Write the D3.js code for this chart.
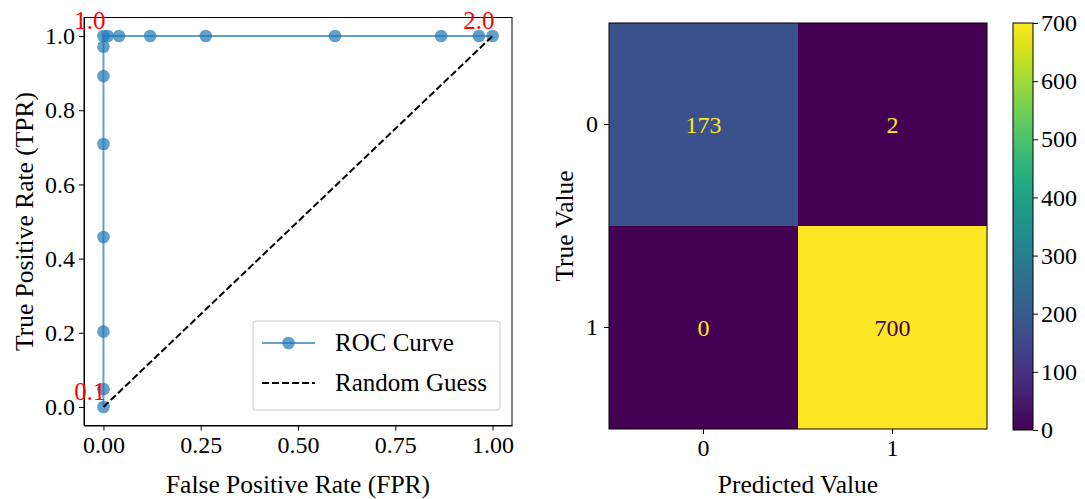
<!DOCTYPE html>
<html>
<head>
<meta charset="utf-8">
<script src="https://cdn.jsdelivr.net/npm/d3@7"></script>
<style>
body { margin: 0; background: #fff; }
svg { font-family: "Liberation Serif", "DejaVu Serif", serif; }
.axis path, .axis line { stroke: #000; stroke-width: 1; }
.axis text { font-size: 24px; fill: #000; font-family: "Liberation Serif", serif; }
</style>
</head>
<body>
<svg id="chart" width="1085" height="499"></svg>
<script>
// ROC curve points
var fpr = [0, 0, 0, 0, 0, 0, 0, 0, 0.011, 0.04, 0.12, 0.263, 0.595, 0.868, 0.965, 1.0];
var tpr = [0, 0.048, 0.203, 0.458, 0.709, 0.892, 0.971, 1.0, 1.0, 1.0, 1.0, 1.0, 1.0, 1.0, 1.0, 1.0];
// threshold annotations: index of point, label
var annotIdx = [0, 7, 15];
var annotText = ["0.1", "1.0", "2.0"];
var rocTicksX = [0, 0.25, 0.5, 0.75, 1.0];
var rocTicksY = [0, 0.2, 0.4, 0.6, 0.8, 1.0];

// confusion matrix
var classes = ["0", "1"];
var matrix = [[173, 2], [0, 700]];
var cbarTicks = [0, 100, 200, 300, 400, 500, 600, 700];

var svg = d3.select("#chart");
var fontFam = "Liberation Serif, serif";

// ---------- ROC panel ----------
var x = d3.scaleLinear().domain([-0.05, 1.05]).range([84, 512]);
var y = d3.scaleLinear().domain([-0.05, 1.05]).range([425.5, 17.5]);
var roc = svg.append("g");

roc.append("g").attr("class", "axis")
	.attr("transform", "translate(0," + y(-0.05) + ")")
	.call(d3.axisBottom(x).tickValues(rocTicksX).tickFormat(d3.format(".2f")).tickSize(5).tickPadding(5).tickSizeOuter(0))
	.attr("font-family", fontFam).attr("font-size", 24);
roc.append("g").attr("class", "axis")
	.attr("transform", "translate(" + x(-0.05) + ",0)")
	.call(d3.axisLeft(y).tickValues(rocTicksY).tickFormat(d3.format(".1f")).tickSize(5).tickPadding(4).tickSizeOuter(0))
	.attr("font-family", fontFam).attr("font-size", 24);

// box
roc.append("rect")
	.attr("x", x(-0.05)).attr("y", y(1.05))
	.attr("width", x(1.05) - x(-0.05)).attr("height", y(-0.05) - y(1.05))
	.attr("fill", "none").attr("stroke", "#000").attr("stroke-width", 1);

var pts = fpr.map(function(f, i) { return [f, tpr[i]]; });

roc.append("path")
	.attr("d", d3.line().x(function(d) { return x(d[0]); }).y(function(d) { return y(d[1]); })(pts))
	.attr("fill", "none").attr("stroke", "#1f77b4").attr("stroke-width", 2).attr("stroke-opacity", 0.7);

roc.selectAll("circle.pt").data(pts).enter().append("circle")
	.attr("class", "pt")
	.attr("cx", function(d) { return x(d[0]); })
	.attr("cy", function(d) { return y(d[1]); })
	.attr("r", 6.3)
	.attr("fill", "#1f77b4").attr("fill-opacity", 0.7);

roc.append("line")
	.attr("x1", x(0)).attr("y1", y(0)).attr("x2", x(1)).attr("y2", y(1))
	.attr("stroke", "#000").attr("stroke-width", 2).attr("stroke-dasharray", "7,3");

roc.selectAll("text.annot").data(annotIdx).enter().append("text")
	.attr("class", "annot")
	.attr("x", function(d) { return x(fpr[d]) + 2; })
	.attr("y", function(d) { return y(tpr[d]) - 7; })
	.attr("text-anchor", "end")
	.attr("font-size", 25).attr("fill", "red")
	.text(function(d, i) { return annotText[i]; });

roc.append("text")
	.attr("x", (x(-0.05) + x(1.05)) / 2).attr("y", 493)
	.attr("text-anchor", "middle").attr("font-size", 25.5)
	.text("False Positive Rate (FPR)");
roc.append("text")
	.attr("transform", "translate(33," + (y(-0.05) + y(1.05)) / 2 + ") rotate(-90)")
	.attr("text-anchor", "middle").attr("font-size", 25.5)
	.text("True Positive Rate (TPR)");

// legend
var leg = roc.append("g");
leg.append("rect")
	.attr("x", 253).attr("y", 321).attr("width", 247).attr("height", 89).attr("rx", 3)
	.attr("fill", "#fff").attr("fill-opacity", 0.8).attr("stroke", "#ccc");
leg.append("line").attr("x1", 262).attr("x2", 315).attr("y1", 343).attr("y2", 343)
	.attr("stroke", "#1f77b4").attr("stroke-width", 2).attr("stroke-opacity", 0.7);
leg.append("circle").attr("cx", 288.5).attr("cy", 343).attr("r", 6.3)
	.attr("fill", "#1f77b4").attr("fill-opacity", 0.7);
leg.append("text").attr("x", 335).attr("y", 351).attr("font-size", 25).text("ROC Curve");
leg.append("line").attr("x1", 262).attr("x2", 315).attr("y1", 383).attr("y2", 383)
	.attr("stroke", "#000").attr("stroke-width", 2).attr("stroke-dasharray", "7,3");
leg.append("text").attr("x", 335).attr("y", 391).attr("font-size", 25).text("Random Guess");

// ---------- Confusion matrix ----------
var cx = d3.scaleBand().domain(classes).range([609, 987]);
var cy = d3.scaleBand().domain(classes).range([23, 429]);
var vmax = d3.max(matrix, function(r) { return d3.max(r); });
var color = d3.scaleSequential(d3.interpolateViridis).domain([0, vmax]);

var cm = svg.append("g");
var cells = [];
matrix.forEach(function(row, i) {
	row.forEach(function(v, j) { cells.push({ r: classes[i], c: classes[j], v: v }); });
});

cm.selectAll("rect.cell").data(cells).enter().append("rect")
	.attr("class", "cell")
	.attr("x", function(d) { return cx(d.c); })
	.attr("y", function(d) { return cy(d.r); })
	.attr("width", cx.bandwidth()).attr("height", cy.bandwidth())
	.attr("fill", function(d) { return color(d.v); });

cm.selectAll("text.val").data(cells).enter().append("text")
	.attr("class", "val")
	.attr("x", function(d) { return cx(d.c) + cx.bandwidth() / 2; })
	.attr("y", function(d) { return cy(d.r) + cy.bandwidth() / 2 + 8; })
	.attr("text-anchor", "middle").attr("font-size", 24)
	.attr("fill", function(d) { return d.v > vmax / 2 ? color(0) : color(vmax); })
	.text(function(d) { return d.v; });

cm.append("rect")
	.attr("x", 609).attr("y", 23).attr("width", 378).attr("height", 406)
	.attr("fill", "none").attr("stroke", "#000").attr("stroke-width", 1);

cm.append("g").attr("class", "axis")
	.attr("transform", "translate(0,429)")
	.call(d3.axisBottom(cx).tickSize(5).tickPadding(5).tickSizeOuter(0))
	.attr("font-family", fontFam).attr("font-size", 24)
	.select(".domain").remove();
cm.append("g").attr("class", "axis")
	.attr("transform", "translate(609,0)")
	.call(d3.axisLeft(cy).tickSize(5).tickPadding(6).tickSizeOuter(0))
	.attr("font-family", fontFam).attr("font-size", 24)
	.select(".domain").remove();

cm.append("text").attr("x", 798).attr("y", 493)
	.attr("text-anchor", "middle").attr("font-size", 25.5).text("Predicted Value");
cm.append("text")
	.attr("transform", "translate(573,226) rotate(-90)")
	.attr("text-anchor", "middle").attr("font-size", 25.5).text("True Value");

// colorbar
var cb = d3.scaleLinear().domain([0, vmax]).range([430, 23]);
var grad = svg.append("defs").append("linearGradient")
	.attr("id", "viridis").attr("x1", 0).attr("y1", 1).attr("x2", 0).attr("y2", 0);
d3.range(0, 1.0001, 0.05).forEach(function(t) {
	grad.append("stop").attr("offset", t).attr("stop-color", d3.interpolateViridis(t));
});
cm.append("rect")
	.attr("x", 1013).attr("y", 23).attr("width", 20).attr("height", 407)
	.attr("fill", "url(#viridis)").attr("stroke", "#000").attr("stroke-width", 1);
cm.append("g").attr("class", "axis")
	.attr("transform", "translate(1033,0)")
	.call(d3.axisRight(cb).tickValues(cbarTicks).tickSize(5).tickPadding(3).tickSizeOuter(0))
	.attr("font-family", fontFam).attr("font-size", 24)
	.select(".domain").remove();
</script>
</body>
</html>
